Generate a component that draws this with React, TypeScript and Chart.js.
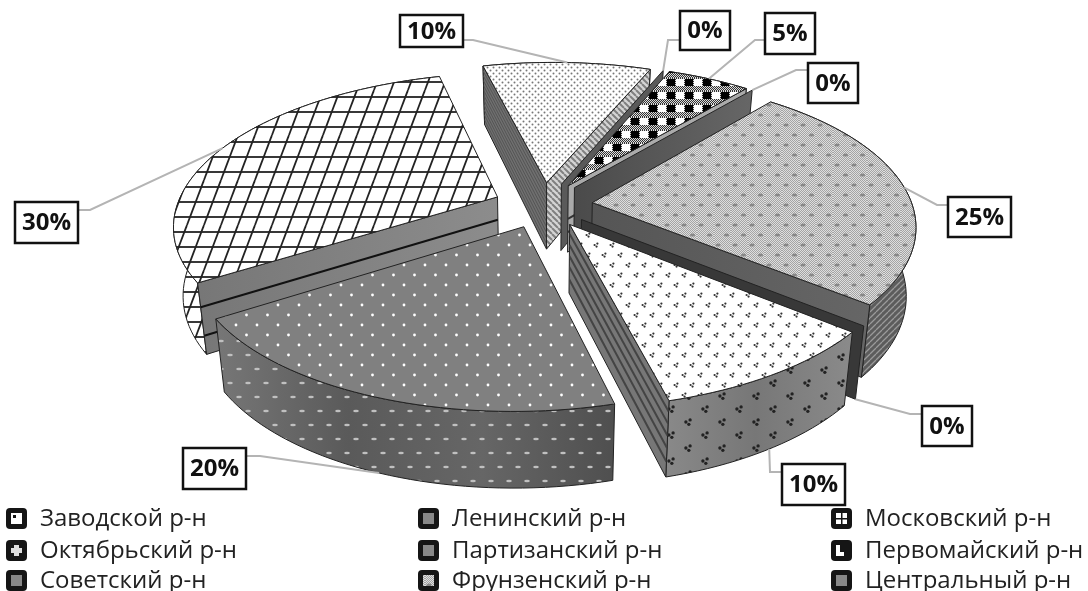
import React, { useEffect, useRef } from "react";
import { Chart, registerables } from "chart.js";

Chart.register(...registerables);

const categories = [
  "Заводской р-н",
  "Ленинский р-н",
  "Московский р-н",
  "Октябрьский р-н",
  "Партизанский р-н",
  "Первомайский р-н",
  "Советский р-н",
  "Фрунзенский р-н",
  "Центральный р-н",
];
const shares = [10, 0, 5, 0, 25, 0, 10, 20, 30];
const percentLabels = ["10%", "0%", "5%", "0%", "25%", "0%", "10%", "20%", "30%"];
const sliceGreys = ["#e8e8e8", "#6b6b6b", "#555555", "#555555", "#c4c4c4", "#3a3a3a", "#f0f0f0", "#808080", "#f4f4f4"];

// view of the tilted pie
const X0 = 543, Y0 = 205, A = 320, B = 146.7, D = 0.163, EXPLODE = 0.155, SKEW = 7;
const PAINT_ORDER = [8, 0, 1, 2, 3, 4, 5, 6, 7];

// label boxes: x1, y1, x2, y2, elbow x, elbow y, box exit x
const BOXES = [
  [400, 15, 463, 47, 473, 40, 463],
  [680, 11, 730, 50, 668, 40, 680],
  [765, 13, 815, 54, 755, 40, 765],
  [808, 63, 858, 103, 796, 70, 808],
  [948, 197, 1011, 237, 937, 205, 948],
  [922, 406, 972, 446, 910, 414, 922],
  [782, 464, 845, 505, 770, 472, 782],
  [183, 448, 246, 489, 260, 456, 246],
  [15, 202, 78, 243, 90, 210, 78],
];
const LEGEND_X = [6, 418, 831];
const LEGEND_Y = [518, 550, 580];
const FONT = '"Open Sans", "Noto Sans", sans-serif';

type Pt = [number, number];
const proj = (p: number, q: number): Pt => {
  const k = 1 / (1 - D * q);
  return [X0 + A * p * k - SKEW * q, Y0 + B * q * k];
};
const drop = (pt: Pt, q: number): Pt => [pt[0] - (pt[0] - X0) * 0.026, pt[1] + 67.5 + 8 * q];

function tile(ctx: CanvasRenderingContext2D, w: number, h: number, draw: (c: CanvasRenderingContext2D) => void) {
  const c = document.createElement("canvas");
  c.width = w;
  c.height = h;
  const g = c.getContext("2d")!;
  draw(g);
  return ctx.createPattern(c, "repeat")!;
}
const bg = (g: CanvasRenderingContext2D, col: string, w: number, h: number) => {
  g.fillStyle = col;
  g.fillRect(0, 0, w, h);
};
const dot = (g: CanvasRenderingContext2D, x: number, y: number, rx: number, ry: number, col: string) => {
  g.fillStyle = col;
  g.beginPath();
  g.ellipse(x, y, rx, ry, 0, 0, Math.PI * 2);
  g.fill();
};
const clover = (g: CanvasRenderingContext2D, x: number, y: number, s: number, col: string) => {
  dot(g, x + s, y - s, s * 0.8, s * 0.8, col);
  dot(g, x - s, y, s * 0.8, s * 0.8, col);
  dot(g, x + s * 0.4, y + s * 1.1, s * 0.8, s * 0.8, col);
};

function makePatterns(ctx: CanvasRenderingContext2D) {
  return {
    dots: tile(ctx, 6, 6, (g) => {
      bg(g, "#fff", 6, 6);
      dot(g, 1.5, 1.5, 1, 1, "#777");
      dot(g, 4.5, 4.5, 1, 1, "#777");
    }),
    check: tile(ctx, 18, 13, (g) => {
      for (let x = 0; x < 18; x++) for (let y = 0; y < 13; y++) {
        g.fillStyle = (x + y) % 2 === 0 ? "#333" : "#ddd";
        g.fillRect(x, y, 1, 1);
      }
      g.fillStyle = "#000";
      g.fillRect(1, 1, 8, 7);
      g.fillStyle = "#fff";
      g.fillRect(10, 1, 8, 7);
    }),
    dither: tile(ctx, 17, 20, (g) => {
      for (let x = 0; x < 17; x++) for (let y = 0; y < 20; y++) {
        g.fillStyle = (x + y) % 2 === 0 ? "#a4a4a4" : "#dedede";
        g.fillRect(x, y, 1, 1);
      }
      dot(g, 4, 5, 2.6, 1.6, "#888");
      dot(g, 12.5, 15, 2.6, 1.6, "#888");
    }),
    clover: tile(ctx, 16, 20, (g) => {
      bg(g, "#fff", 16, 20);
      clover(g, 4, 5, 1.4, "#333");
      clover(g, 12, 15, 1.4, "#333");
    }),
    cloverWall: tile(ctx, 34, 26, (g) => {
      clover(g, 8, 6, 2.1, "#222");
      clover(g, 25, 19, 2.1, "#222");
    }),
    dotsGrey: tile(ctx, 21, 20, (g) => {
      bg(g, "#808080", 21, 20);
      dot(g, 5, 5, 1.4, 1.4, "#fff");
      dot(g, 15.5, 15, 1.4, 1.4, "#fff");
    }),
    dotsWall: tile(ctx, 36, 28, (g) => {
      dot(g, 5, 5, 2.8, 1.2, "#c0c0c0");
      dot(g, 23, 5, 2.8, 1.2, "#c0c0c0");
      dot(g, 14, 19, 2.8, 1.2, "#c0c0c0");
      dot(g, 32, 19, 2.8, 1.2, "#c0c0c0");
    }),
    grid: tile(ctx, 17, 45, (g) => {
      bg(g, "#fff", 17, 45);
      g.strokeStyle = "#222";
      g.lineWidth = 1.8;
      for (let y = 7; y < 45; y += 15) {
        g.beginPath();
        g.moveTo(0, y);
        g.lineTo(17, y);
        g.stroke();
      }
      for (let i = -1; i <= 1; i++) {
        g.beginPath();
        g.moveTo(i * 17, 45);
        g.lineTo(i * 17 + 17, 0);
        g.stroke();
      }
    }),
    hatch: tile(ctx, 6, 6, (g) => {
      bg(g, "#5c5c5c", 6, 6);
      g.strokeStyle = "#9a9a9a";
      g.lineWidth = 1.3;
      g.beginPath();
      for (let i = -6; i <= 6; i += 6) {
        g.moveTo(i, 6);
        g.lineTo(i + 6, 0);
      }
      g.stroke();
    }),
    diagLight: tile(ctx, 6, 6, (g) => {
      bg(g, "#d4d4d4", 6, 6);
      g.strokeStyle = "#808080";
      g.lineWidth = 2;
      g.beginPath();
      for (let i = -6; i <= 6; i += 6) {
        g.moveTo(i, 0);
        g.lineTo(i + 6, 6);
      }
      g.stroke();
    }),
  };
}

function poly(ctx: CanvasRenderingContext2D, pts: Pt[]) {
  ctx.beginPath();
  pts.forEach((p, i) => (i ? ctx.lineTo(p[0], p[1]) : ctx.moveTo(p[0], p[1])));
  ctx.closePath();
}
function paint(ctx: CanvasRenderingContext2D, pts: Pt[], fills: any[], line = "#222") {
  poly(ctx, pts);
  fills.forEach((f) => {
    ctx.fillStyle = f;
    ctx.fill();
  });
  ctx.strokeStyle = line;
  ctx.lineWidth = 1;
  ctx.lineJoin = "round";
  ctx.stroke();
}
function hGrad(ctx: CanvasRenderingContext2D, x0: number, x1: number, stops: string[]) {
  const g = ctx.createLinearGradient(x0, 0, x1, 0);
  stops.forEach((s, i) => g.addColorStop(i / (stops.length - 1), s));
  return g;
}

function sliceGeom(el: any) {
  const a0 = el.startAngle, a1 = el.endAngle, mid = (a0 + a1) / 2;
  const ox = Math.cos(mid) * EXPLODE, oy = Math.sin(mid) * EXPLODE;
  const at = (a: number) => {
    const q = oy + Math.sin(a);
    const t = proj(ox + Math.cos(a), q);
    return { t, b: drop(t, q) };
  };
  const apex = { t: proj(ox, oy), b: drop(proj(ox, oy), oy) };
  const rim: { t: Pt; b: Pt }[] = [];
  const n = Math.max(1, Math.round((a1 - a0) / 0.03));
  for (let i = 0; i <= n; i++) rim.push(at(a0 + ((a1 - a0) * i) / n));
  return { a0, a1, mid, ox, oy, at, apex, rim };
}

function radial(ctx: CanvasRenderingContext2D, apex: any, end: any, fills: any[], fractions: number[] = [], stripe = "#000", w = 1.5) {
  const pts: Pt[] = [apex.t, end.t, end.b, apex.b];
  paint(ctx, pts, fills);
  ctx.save();
  poly(ctx, pts);
  ctx.clip();
  ctx.strokeStyle = stripe;
  ctx.lineWidth = w;
  fractions.forEach((f) => {
    ctx.beginPath();
    ctx.moveTo(apex.t[0] + (apex.b[0] - apex.t[0]) * f, apex.t[1] + (apex.b[1] - apex.t[1]) * f);
    ctx.lineTo(end.t[0] + (end.b[0] - end.t[0]) * f, end.t[1] + (end.b[1] - end.t[1]) * f);
    ctx.stroke();
  });
  ctx.restore();
}

const pie3d = {
  id: "pie3d",
  beforeDatasetsDraw(chart: any) {
    const ctx: CanvasRenderingContext2D = chart.ctx;
    const pats = makePatterns(ctx);
    const els = chart.getDatasetMeta(0).data;
    const thin = [1 / 12, 2 / 12, 3 / 12, 4 / 12, 5 / 12, 6 / 12, 7 / 12, 8 / 12, 9 / 12, 10 / 12, 11 / 12];
    ctx.save();
    PAINT_ORDER.forEach((i) => {
      const g = sliceGeom(els[i]);
      const first = g.rim[0], last = g.rim[g.rim.length - 1];
      if (shares[i] === 0) {
        const plane = i === 1 ? ["#5a5a5a"] : i === 3 ? [hGrad(ctx, 570, 750, ["#4a4a4a", "#666"])] : ["#383838"];
        radial(ctx, g.apex, first, plane);
        return;
      }
      const outer: any[] =
        i === 4 ? [pats.hatch]
        : i === 6 ? [hGrad(ctx, 660, 850, ["#8a8a8a", "#777", "#8a8a8a"]), pats.cloverWall]
        : i === 7 ? [hGrad(ctx, 215, 615, ["#777", "#5a5a5a", "#666", "#4f4f4f"]), pats.dotsWall]
        : i === 8 ? [pats.grid]
        : ["#777"];
      const wall: Pt[] = [...g.rim.map((r) => r.t), ...g.rim.map((r) => r.b).reverse()];
      paint(ctx, wall, outer);
      if (Math.cos(g.a0) < 0) {
        if (i === 0) radial(ctx, g.apex, first, ["#6f6f6f"], thin, "#555", 1);
        else radial(ctx, g.apex, first, [hGrad(ctx, 200, 495, ["#777", "#8c8c8c"])], [0.34, 0.74], "#111", 2);
      }
      if (Math.cos(g.a1) > 0) {
        if (i === 0) radial(ctx, g.apex, last, [pats.diagLight]);
        else if (i === 2) radial(ctx, g.apex, last, ["#aaa"], [0.5, 0.7], "#333", 2);
        else if (i === 4) radial(ctx, g.apex, last, [hGrad(ctx, 590, 870, ["#555", "#666"])]);
        else radial(ctx, g.apex, last, ["#777"], [0.14, 0.3, 0.46, 0.62, 0.8], "#444", 2);
      }
      const top: Pt[] = [g.apex.t, ...g.rim.map((r) => r.t)];
      const fill =
        i === 0 ? pats.dots : i === 2 ? pats.check : i === 4 ? pats.dither : i === 6 ? pats.clover : i === 7 ? pats.dotsGrey : pats.grid;
      paint(ctx, top, [fill]);
    });
    ctx.restore();
    return false;
  },
  afterDraw(chart: any) {
    const ctx: CanvasRenderingContext2D = chart.ctx;
    const els = chart.getDatasetMeta(0).data;
    ctx.save();
    // leader lines and value labels
    percentLabels.forEach((txt, i) => {
      const [x1, y1, x2, y2, ex, ey, bx] = BOXES[i];
      const g = sliceGeom(els[i]);
      const r = g.at(g.mid);
      const q = g.oy + Math.sin(g.mid);
      const end = q > 0.45 ? r.b : r.t;
      ctx.strokeStyle = "#b4b4b4";
      ctx.lineWidth = 2;
      ctx.beginPath();
      ctx.moveTo(bx, ey);
      ctx.lineTo(ex, ey);
      ctx.lineTo(end[0], end[1]);
      ctx.stroke();
      ctx.fillStyle = "#fff";
      ctx.fillRect(x1, y1, x2 - x1, y2 - y1);
      ctx.strokeStyle = "#111";
      ctx.lineWidth = 2.5;
      ctx.strokeRect(x1, y1, x2 - x1, y2 - y1);
      ctx.fillStyle = "#111";
      ctx.font = `bold 24px ${FONT}`;
      ctx.textAlign = "center";
      ctx.textBaseline = "middle";
      ctx.fillText(txt, (x1 + x2) / 2, (y1 + y2) / 2 + 1);
    });
    // legend, three columns across three rows
    const pats = makePatterns(ctx);
    categories.forEach((name, i) => {
      const x = LEGEND_X[i % 3], y = LEGEND_Y[Math.floor(i / 3)];
      ctx.fillStyle = "#151515";
      ctx.beginPath();
      (ctx as any).roundRect(x, y - 10, 21, 21, 4);
      ctx.fill();
      const ix = x + 5, iy = y - 5;
      ctx.fillStyle = i === 0 || i === 2 || i === 5 ? "#fff" : i === 3 ? "#ddd" : i === 7 ? pats.dither : "#888";
      ctx.fillRect(ix, iy, 11, 11);
      ctx.fillStyle = "#151515";
      if (i === 0) ctx.fillRect(ix + 2, iy + 2, 3, 3);
      if (i === 2) {
        ctx.fillRect(ix + 5, iy, 1.5, 11);
        ctx.fillRect(ix, iy + 5, 11, 1.5);
      }
      if (i === 3) {
        ctx.fillRect(ix, iy, 3, 3);
        ctx.fillRect(ix + 8, iy, 3, 3);
        ctx.fillRect(ix, iy + 8, 3, 3);
        ctx.fillRect(ix + 8, iy + 8, 3, 3);
      }
      if (i === 5) {
        ctx.fillRect(ix + 4, iy, 7, 7);
        ctx.fillRect(ix + 8, iy, 3, 11);
      }
      ctx.fillStyle = "#222";
      ctx.font = `24px ${FONT}`;
      ctx.textAlign = "left";
      ctx.textBaseline = "middle";
      ctx.fillText(name, x + 34, y + 1);
    });
    ctx.restore();
  },
};

export default function App() {
  const ref = useRef<HTMLCanvasElement>(null);
  useEffect(() => {
    document.body.style.margin = "0";
    document.body.style.overflow = "hidden";
    const chart = new Chart(ref.current!, {
      type: "pie",
      data: {
        labels: categories,
        datasets: [{ data: shares, backgroundColor: sliceGreys }],
      },
      options: {
        animation: false,
        responsive: false,
        devicePixelRatio: 1,
        rotation: -15,
        plugins: { legend: { display: false }, tooltip: { enabled: false } },
      },
      plugins: [pie3d],
    } as any);
    return () => chart.destroy();
  }, []);
  return <canvas ref={ref} width={1088} height={591} style={{ display: "block", background: "#fff" }} />;
}
